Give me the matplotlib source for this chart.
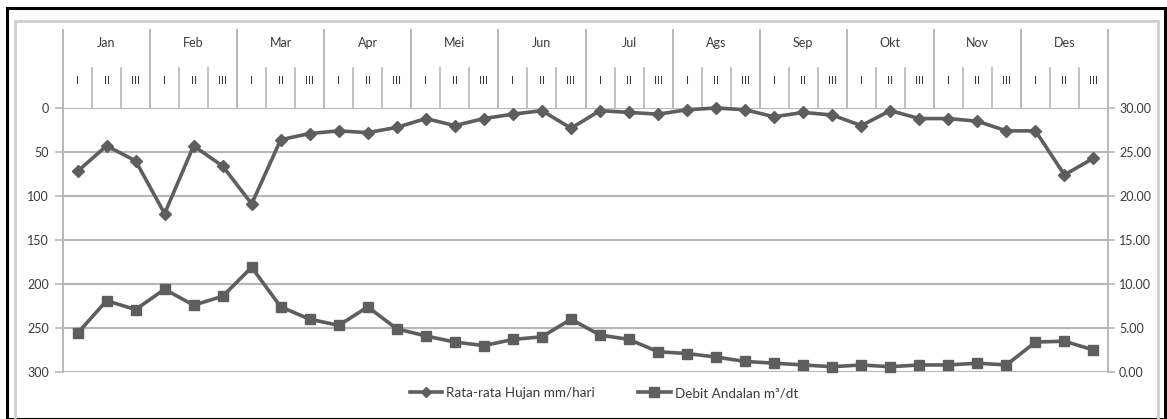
import matplotlib
matplotlib.use("Agg")
import matplotlib.pyplot as plt
from matplotlib.lines import Line2D
from matplotlib.patches import Rectangle
import matplotlib.transforms as mtransforms

plt.rcParams['font.family'] = ['Lato', 'DejaVu Sans']

# Monthly / dekad labels
months = ["Jan", "Feb", "Mar", "Apr", "Mei", "Jun",
          "Jul", "Ags", "Sep", "Okt", "Nov", "Des"]
dekads = ["I", "II", "III"]

# Average rainfall (mm/hari), left axis (inverted)
rain = [72, 43, 60, 120, 43, 66, 109, 36, 29, 26, 28, 22,
        12, 20, 12, 7, 3, 23, 3, 5, 7, 2, 0, 2,
        10, 5, 8, 20, 3, 12, 12, 15, 26, 26, 76, 57]

# Dependable discharge (m3/dt), right axis
debit = [4.4, 8.1, 7.1, 9.4, 7.6, 8.6, 11.9, 7.4, 6.0, 5.3, 7.4, 4.9,
         4.1, 3.4, 3.0, 3.7, 4.0, 6.0, 4.2, 3.7, 2.3, 2.1, 1.7, 1.2,
         1.0, 0.8, 0.6, 0.8, 0.6, 0.8, 0.8, 1.0, 0.8, 3.4, 3.5, 2.5]

left_ticks = [0, 50, 100, 150, 200, 250, 300]
right_ticks = [0, 5, 10, 15, 20, 25, 30]

W, H = 1167, 419
fig = plt.figure(figsize=(W / 100, H / 100), dpi=100)

# page frame
fig.patches.append(Rectangle((7 / W, 0), (1165 - 7) / W, 1 - 8 / H,
                             transform=fig.transFigure, fill=False,
                             edgecolor="black", linewidth=2.2))
fig.patches.append(Rectangle((15 / W, -0.05), (1158 - 15) / W, 1 - 21 / H + 0.05,
                             transform=fig.transFigure, fill=False,
                             edgecolor="#cfcfcf", linewidth=2.0))

x0, x1 = 63, 1108
ytop, ybot = 108, 372
ax = fig.add_axes([x0 / W, 1 - ybot / H, (x1 - x0) / W, (ybot - ytop) / H])
ax2 = ax.twinx()

line_col = "#5e5e5e"
grid_col = "#b8b8b8"
text_col = "#3a3a3a"

n = len(rain)
xs = list(range(n))

ax.set_xlim(-0.5, n - 0.5)
ax.set_ylim(300, 0)
ax2.set_ylim(0, 30)

for s in ["top", "bottom", "right", "left"]:
    ax.spines[s].set_visible(False)
    ax2.spines[s].set_visible(False)

for v in left_ticks:
    ax.axhline(v, color=grid_col, linewidth=1.6, zorder=1)

ax.set_xticks([])
ax.set_yticks(left_ticks)
ax.set_yticklabels([str(v) for v in left_ticks])
ax.tick_params(axis="y", length=6, width=1.2, color=grid_col, pad=4,
               labelsize=9, labelcolor=text_col)
ax2.set_yticks(right_ticks)
ax2.set_yticklabels([f"{v:.2f}" for v in right_ticks])
ax2.tick_params(axis="y", length=5, width=1.2, color=grid_col, pad=3,
                labelsize=9, labelcolor=text_col)

ax.plot(xs, rain, color=line_col, linewidth=2.6, marker="D", markersize=6,
        markerfacecolor=line_col, markeredgecolor=line_col, zorder=4,
        clip_on=False)
ax2.plot(xs, debit, color=line_col, linewidth=2.6, marker="s", markersize=7.5,
         markerfacecolor=line_col, markeredgecolor=line_col, zorder=4,
         clip_on=False)

# header with months and dekads, x in data units, y in axes units
trans = mtransforms.blended_transform_factory(ax.transData, ax.transAxes)
axis_h = ybot - ytop
y_month_top = 1 + (ytop - 30) / axis_h
y_dek_top = 1 + (ytop - 68) / axis_h
y_month_lbl = 1 + (ytop - 43) / axis_h
y_dek_lbl = 1 + (ytop - 80) / axis_h

for k in range(len(months) + 1):
    xb = -0.5 + 3 * k
    y_lo = 0 if k in (0, len(months)) else 1
    ax.plot([xb, xb], [y_lo, y_month_top], transform=trans, color=grid_col,
            linewidth=1.4, clip_on=False, zorder=2)
for k, m in enumerate(months):
    ax.text(3 * k + 1, y_month_lbl, m, transform=trans, ha="center",
            va="center", fontsize=9, color=text_col)
    for j, d in enumerate(dekads):
        xc = 3 * k + j
        ax.text(xc, y_dek_lbl, d, transform=trans, ha="center", va="center",
                fontsize=8, color=text_col)
        if j > 0:
            ax.plot([xc - 0.5, xc - 0.5], [1, y_dek_top], transform=trans,
                    color=grid_col, linewidth=1.2, clip_on=False, zorder=2)

handles = [
    Line2D([], [], color=line_col, linewidth=2.6, marker="D", markersize=5),
    Line2D([], [], color=line_col, linewidth=2.6, marker="s", markersize=7),
]
labels = ["Rata-rata Hujan mm/hari", "Debit Andalan m\u00b3/dt"]
fig.legend(handles, labels, loc="center", ncol=2,
           bbox_to_anchor=(604 / W, 1 - 393 / H), frameon=False,
           fontsize=9.7, handlelength=2.4, handletextpad=0.3,
           columnspacing=3.2, labelcolor=text_col)

fig.savefig("out.png", dpi=100, facecolor="white")
